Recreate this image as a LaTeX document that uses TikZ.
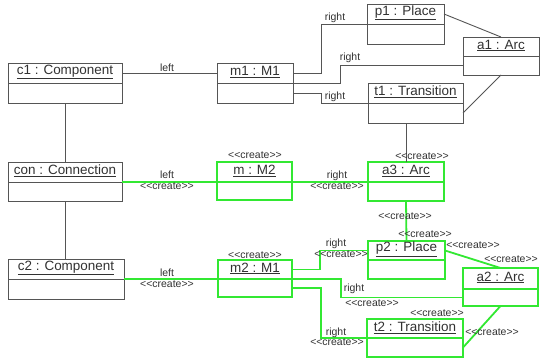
\documentclass[tikz,border=0pt]{standalone}
\usepackage{fontspec}
\setmainfont{Liberation Sans}
\definecolor{ln}{RGB}{85,85,85}
\definecolor{gr}{RGB}{50,232,50}
\definecolor{tx}{RGB}{50,50,50}
\tikzset{
  compart/.style={rectangle, inner sep=0pt, outer sep=0pt},
  blk/.style={draw=ln, line width=0.9bp},
  grn/.style={draw=gr, line width=1.8bp},
  hdr/.style={font=\fontsize{13.5}{15}\selectfont, text=tx, inner sep=0pt},
  lbl/.style={font=\fontsize{10.5}{12}\selectfont, text=tx, inner sep=0pt}
}
\newcommand{\umlobj}[8]{%
  \node[compart,#8,minimum width={(#4-#2)*1bp},minimum height={(#5-#3)*1bp}] (#1) at ({(#2+#4)/2},{(#3+#5)/2}) {};
  \node[compart,#8,minimum width={(#4-#2)*1bp},minimum height={(#6-#5)*1bp}] (#1b) at ({(#2+#4)/2},{(#5+#6)/2}) {};
  \node[hdr] (#1t) at ({(#2+#4)/2},{(#3+#5)/2-1}) {\underline{#7}};
}
\newcommand{\crt}{{<}{<}create{>}{>}}
\begin{document}
\begin{tikzpicture}[x=1bp,y=-1bp]
\useasboundingbox (0,0) rectangle (540,362);
\fill[white] (0,0) rectangle (540,362);
% objects
\umlobj{c1}{8}{63}{122}{83}{103}{c1 : Component}{blk}
\umlobj{m1}{217}{63}{293}{83}{103}{m1 : M1}{blk}
\umlobj{p1}{367}{4}{444}{24}{44}{p1 : Place}{blk}
\umlobj{a1}{463}{37}{539}{56}{75}{a1 : Arc}{blk}
\umlobj{t1}{368}{83}{463}{103}{123}{t1 : Transition}{blk}
\umlobj{con}{8}{162}{122}{182}{201}{con : Connection}{blk}
\umlobj{m}{217}{162}{292}{182}{200}{m : M2}{grn}
\umlobj{a3}{368}{162}{444}{182}{201}{a3 : Arc}{grn}
\umlobj{c2}{8}{259}{124}{279}{299}{c2 : Component}{blk}
\umlobj{m2}{218}{260}{292}{279}{297}{m2 : M1}{grn}
\umlobj{p2}{368}{241}{445}{260}{279}{p2 : Place}{grn}
\umlobj{a2}{463}{268}{538}{289}{306}{a2 : Arc}{grn}
\umlobj{t2}{367}{319}{463}{338}{357}{t2 : Transition}{grn}
% black connectors
\draw[blk] (c1.east) -- (m1.west);
\draw[blk] (c1b.south) -- (con.north);
\draw[blk] (conb.south) -- (conb.south |- c2.north);
\draw[blk] (m1.east) -- ++(28,0) |- (p1.south west);
\draw[blk] (m1.south east) -- ++(47,0) |- (a1b.west);
\draw[blk] (m1b.east) -- ++(28,0) |- (t1.south west);
\draw[blk] (p1.east) -- (a1.north);
\draw[blk] (a1b.south) -- (t1b.east);
\draw[blk] (a3.north) -- (a3.north |- t1b.south);
% green connectors
\draw[grn] (con.south east) -- (m.south west);
\draw[grn] (m.south east) -- (a3.south west);
\draw[grn] (c2.south east) -- (m2.south west);
\draw[grn] (a3b.south) -- (p2.north);
\draw[grn] (p2.east) -- (a2.north);
\draw[grn] (a2b.south) -- (t2b.east);
\draw[grn] (m2.east) -- ++(28,0) |- (p2.west);
\draw[grn] (m2.south east) -- ++(49,0) |- (a2b.west);
\draw[grn] (m2b.east) -- ++(29,0) |- (t2.south west);
% labels
\node[lbl] (l1) at (167,68) {left};
\node[lbl] (l2) at (335,18) {right};
\node[lbl] (l3) at (350,58) {right};
\node[lbl] (l4) at (335,97) {right};
\node[lbl] (l5) at (255,155) {\crt};
\node[lbl] (l6) at (167,175) {left};
\node[lbl] (l7) at (167,186) {\crt};
\node[lbl] (l8) at (422,156) {\crt};
\node[lbl] (l9) at (337,176) {right};
\node[lbl] (l10) at (337,186) {\crt};
\node[lbl] (l11) at (405,216) {\crt};
\node[lbl] (l12) at (425,234) {\crt};
\node[lbl] (l13) at (473,245) {\crt};
\node[lbl] (l14) at (511,259) {\crt};
\node[lbl] (l15) at (255,255) {\crt};
\node[lbl] (l16) at (167,273) {left};
\node[lbl] (l17) at (167,284) {\crt};
\node[lbl] (l18) at (336,244) {right};
\node[lbl] (l19) at (341,254) {\crt};
\node[lbl] (l20) at (354,289) {right};
\node[lbl] (l21) at (372,303) {\crt};
\node[lbl] (l22) at (336,333) {right};
\node[lbl] (l23) at (337,342) {\crt};
\node[lbl] (l24) at (437,313) {\crt};
\node[lbl] (l25) at (492,332) {\crt};
\end{tikzpicture}
\end{document}
